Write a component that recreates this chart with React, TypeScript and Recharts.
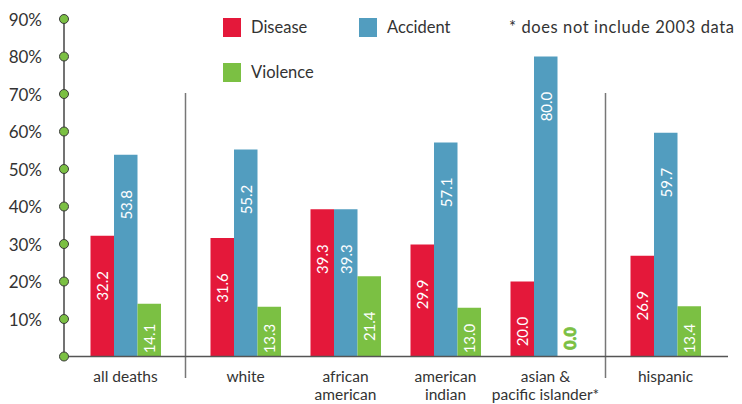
import { BarChart, Bar, XAxis, YAxis, LabelList, ReferenceLine } from 'recharts';

// ── Data ──────────────────────────────────────────────────────

const categories = [
    'all deaths',
    'white',
    'african\namerican',
    'american\nindian',
    'asian &\npacific islander*',
    'hispanic',
];
const disease = [32.2, 31.6, 39.3, 29.9, 20.0, 26.9];
const accident = [53.8, 55.2, 39.3, 57.1, 80.0, 59.7];
const violence = [14.1, 13.3, 21.4, 13.0, 0.0, 13.4];
const yTicks = [0, 10, 20, 30, 40, 50, 60, 70, 80, 90];
// groups that are followed by a divider line
const dividerAfter = [0, 4];
const footnote = '* does not include 2003 data';

// ── Colors / layout ───────────────────────────────────────────

const RED = '#e4183a';
const BLUE = '#529dbf';
const GREEN = '#7bc043';
const TEXT = '#333333';
const FONT = 'Lato, "Open Sans", sans-serif';
const DIVIDER_GAP = 0.2;

const positions = categories.map(
    (_, i) => i + DIVIDER_GAP * dividerAfter.filter(d => d < i).length,
);

const data = categories.map((name, i) => ({
    name,
    pos: positions[i],
    disease: disease[i],
    accident: accident[i],
    violence: violence[i],
}));

const dividers = dividerAfter.map(d => (positions[d] + positions[d + 1]) / 2);

const series = [
    { key: 'disease', name: 'Disease', color: RED },
    { key: 'accident', name: 'Accident', color: BLUE },
    { key: 'violence', name: 'Violence', color: GREEN },
];

// ── Pieces ────────────────────────────────────────────────────

const YTick = (props: any) => {
    const { x, y, payload } = props;
    return (
        <g>
            {payload.value !== 0 && (
                <text x={x - 22} y={y} textAnchor="end" dominantBaseline="central"
                    fontSize={17} fill={TEXT} fontFamily={FONT}>
                    {payload.value}%
                </text>
            )}
            <circle cx={x} cy={y} r={4.5} fill={GREEN} stroke="#3a3a3a" strokeWidth={1} />
        </g>
    );
};

const XTick = (props: any) => {
    const { x, y, index } = props;
    const lines = (categories[index] || '').split('\n');
    return (
        <g>
            {lines.map((l, i) => (
                <text key={i} x={x} y={y + 19 + i * 18.5} textAnchor="middle" dominantBaseline="central"
                    fontSize={15.5} fill={TEXT} fontFamily={FONT}>
                    {l}
                </text>
            ))}
        </g>
    );
};

const ValueLabel = (props: any) => {
    const vb = props.viewBox || props;
    const x = vb.x, y = vb.y, width = vb.width, height = vb.height || 0;
    const value = Number(props.value);
    const top = Math.min(y, y + height);
    const bottom = Math.max(y, y + height);
    const cx = x + width / 2;
    const cy = Math.min(top + 50, bottom - 18);
    const isZero = value === 0;
    return (
        <text x={cx} y={cy} transform={`rotate(-90 ${cx} ${cy})`}
            textAnchor="middle" dominantBaseline="central"
            fontSize={isZero ? 16 : 15} fontFamily={FONT}
            fontWeight={isZero ? 900 : 400}
            stroke={isZero ? GREEN : 'none'}
            strokeWidth={isZero ? 0.8 : 0}
            fill={isZero ? GREEN : '#ffffff'}>
            {value.toFixed(1)}
        </text>
    );
};

const legendSpots: Record<string, { left: number; top: number }> = {
    disease: { left: 223, top: 18 },
    accident: { left: 359, top: 18 },
    violence: { left: 223, top: 63 },
};

const ChartLegend = () => (
    <div style={{ position: 'absolute', left: 0, top: 0, width: 742, height: 100, fontFamily: FONT, color: TEXT, fontSize: 16.5 }}>
        {series.map(s => (
            <div key={s.key} style={{ position: 'absolute', left: legendSpots[s.key].left, top: legendSpots[s.key].top, display: 'flex', alignItems: 'center', height: 19 }}>
                <span style={{ display: 'inline-block', width: 18, height: 19, background: s.color, marginRight: 10 }} />
                <span style={{ lineHeight: '19px' }}>{s.name}</span>
            </div>
        ))}
        <div style={{ position: 'absolute', left: 509, top: 18, height: 19, lineHeight: '19px', whiteSpace: 'nowrap', letterSpacing: '0.6px' }}>{footnote}</div>
    </div>
);

// ── Component ─────────────────────────────────────────────────

export default function App() {
    return (
        <div style={{ position: 'absolute', left: 0, top: 0, width: 742, height: 404 }}>
            <BarChart
                width={742}
                height={404}
                data={data}
                barGap={0}
                barSize={23.5}
                margin={{ top: 19, right: 14, bottom: 7.5, left: 0 }}
            >
                <XAxis
                    type="number"
                    dataKey="pos"
                    domain={[-0.615, 6.025]}
                    allowDataOverflow
                    ticks={positions}
                    interval={0}
                    height={40}
                    tickSize={0}
                    tickMargin={0}
                    tickLine={false}
                    axisLine={{ stroke: '#555', strokeWidth: 1.5 }}
                    tick={<XTick />}
                />
                <YAxis
                    type="number"
                    domain={[0, 90]}
                    ticks={yTicks}
                    interval={0}
                    width={64}
                    tickSize={0}
                    tickMargin={0}
                    tickLine={false}
                    axisLine={{ stroke: '#444', strokeWidth: 1.5 }}
                    tick={<YTick />}
                />
                {dividers.map((d, i) => (
                    <ReferenceLine
                        key={i}
                        segment={[{ x: d, y: -5.7 }, { x: d, y: 70.3 }]}
                        ifOverflow="visible"
                        stroke="#777"
                        strokeWidth={1.5}
                    />
                ))}
                {series.map(s => (
                    <Bar
                        key={s.key}
                        dataKey={s.key}
                        name={s.name}
                        fill={s.color}
                        minPointSize={(v: number) => (v === 0 ? 0.01 : 0)}
                        isAnimationActive={false}
                    >
                        <LabelList dataKey={s.key} content={<ValueLabel />} />
                    </Bar>
                ))}
            </BarChart>
            <ChartLegend />
        </div>
    );
}
